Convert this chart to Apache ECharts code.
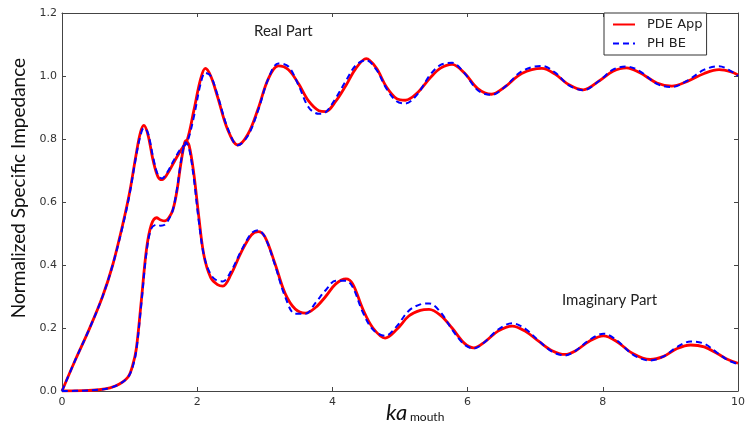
<!DOCTYPE html>
<html>
<head>
<meta charset="utf-8">
<script src="https://cdn.jsdelivr.net/npm/echarts@6/dist/echarts.min.js"></script>
<style>html,body{margin:0;padding:0;background:#fff}#c{width:748px;height:424px}</style>
</head>
<body>
<div id="c"></div>
<script>
// ---- data ----
const seriesNames = ['PDE App', 'PH BE'];
const xTicks = [0, 2, 4, 6, 8, 10];
const yTicks = [0.0, 0.2, 0.4, 0.6, 0.8, 1.0, 1.2];

const xReal = [0, 0.2, 0.4, 0.6, 0.75, 0.9, 1.0, 1.1, 1.16, 1.21, 1.27, 1.35, 1.42, 1.48, 1.56, 1.66, 1.76, 1.85, 1.95, 2.05, 2.12, 2.2, 2.3, 2.45, 2.6, 2.75, 2.9, 3.05, 3.2, 3.35, 3.5, 3.65, 3.8, 3.9, 4.05, 4.2, 4.35, 4.5, 4.65, 4.8, 4.95, 5.08, 5.25, 5.45, 5.6, 5.77, 5.95, 6.15, 6.35, 6.55, 6.8, 7.1, 7.3, 7.5, 7.71, 7.95, 8.15, 8.35, 8.55, 8.8, 9.02, 9.25, 9.5, 9.72, 9.9, 10];
const realPDE = [0, 0.10, 0.195, 0.30, 0.40, 0.53, 0.63, 0.755, 0.82, 0.843, 0.815, 0.73, 0.68, 0.671, 0.69, 0.728, 0.765, 0.795, 0.89, 0.99, 1.024, 1.0, 0.935, 0.83, 0.781, 0.815, 0.895, 0.99, 1.032, 1.02, 0.975, 0.92, 0.89, 0.887, 0.92, 0.97, 1.025, 1.055, 1.025, 0.965, 0.928, 0.923, 0.945, 0.995, 1.025, 1.037, 1.01, 0.96, 0.942, 0.965, 1.008, 1.024, 1.005, 0.972, 0.956, 0.985, 1.015, 1.026, 1.01, 0.978, 0.968, 0.983, 1.008, 1.02, 1.013, 1.003];
const realBE  = [0, 0.10, 0.195, 0.30, 0.40, 0.525, 0.625, 0.75, 0.81, 0.835, 0.82, 0.74, 0.685, 0.675, 0.695, 0.735, 0.77, 0.79, 0.87, 0.975, 1.01, 1.0, 0.94, 0.835, 0.78, 0.81, 0.89, 0.99, 1.04, 1.03, 0.97, 0.90, 0.88, 0.885, 0.93, 0.985, 1.035, 1.05, 1.02, 0.96, 0.92, 0.913, 0.94, 1.005, 1.035, 1.042, 1.01, 0.955, 0.94, 0.965, 1.015, 1.032, 1.01, 0.97, 0.955, 0.985, 1.02, 1.03, 1.015, 0.975, 0.965, 0.985, 1.02, 1.031, 1.015, 1.0];

const xImag = [0, 0.3, 0.55, 0.71, 0.85, 0.98, 1.05, 1.1, 1.175, 1.25, 1.32, 1.4, 1.46, 1.52, 1.58, 1.64, 1.7, 1.75, 1.8, 1.83, 1.88, 1.95, 2.02, 2.1, 2.2, 2.3, 2.38, 2.5, 2.65, 2.8, 2.9, 3.0, 3.15, 3.3, 3.45, 3.6, 3.75, 3.9, 4.05, 4.2, 4.3, 4.45, 4.6, 4.78, 4.95, 5.13, 5.3, 5.43, 5.6, 5.77, 5.95, 6.09, 6.25, 6.45, 6.66, 6.85, 7.05, 7.25, 7.44, 7.6, 7.8, 8.01, 8.2, 8.45, 8.7, 8.9, 9.1, 9.3, 9.5, 9.7, 9.85, 10];
const imagPDE = [0, 0.001, 0.004, 0.01, 0.022, 0.045, 0.085, 0.135, 0.29, 0.45, 0.527, 0.55, 0.543, 0.54, 0.55, 0.575, 0.635, 0.71, 0.775, 0.795, 0.78, 0.69, 0.56, 0.43, 0.36, 0.338, 0.333, 0.37, 0.44, 0.495, 0.506, 0.49, 0.405, 0.31, 0.26, 0.247, 0.265, 0.30, 0.34, 0.356, 0.34, 0.26, 0.20, 0.168, 0.195, 0.238, 0.256, 0.259, 0.24, 0.20, 0.152, 0.137, 0.155, 0.19, 0.206, 0.19, 0.158, 0.128, 0.116, 0.128, 0.158, 0.175, 0.158, 0.118, 0.10, 0.11, 0.135, 0.146, 0.14, 0.118, 0.10, 0.088];
const imagBE  = [0, 0.001, 0.004, 0.01, 0.022, 0.045, 0.08, 0.13, 0.28, 0.44, 0.515, 0.528, 0.525, 0.528, 0.545, 0.575, 0.64, 0.715, 0.775, 0.79, 0.77, 0.675, 0.545, 0.43, 0.37, 0.35, 0.348, 0.38, 0.445, 0.50, 0.51, 0.49, 0.40, 0.30, 0.245, 0.245, 0.28, 0.32, 0.35, 0.35, 0.33, 0.25, 0.195, 0.175, 0.205, 0.255, 0.275, 0.278, 0.25, 0.195, 0.148, 0.135, 0.155, 0.195, 0.215, 0.198, 0.16, 0.125, 0.113, 0.128, 0.162, 0.182, 0.162, 0.115, 0.097, 0.11, 0.14, 0.157, 0.15, 0.12, 0.098, 0.085];

const pairs = (xs, ys) => xs.map((x, i) => [x, ys[i]]);

const chart = echarts.init(document.getElementById('c'), null, {renderer: 'canvas'});
const axisColor = '#444';
const labelFont = {fontFamily: 'DejaVu Sans', fontSize: 11, color: '#333'};
const redLine = {color: '#ff0000', width: 2.8, type: 'solid'};
const blueLine = {color: '#0000ff', width: 2, type: [6, 4]};

function lineSeries(name, data, ls, z) {
  return {name, type: 'line', data, smooth: 0.35, showSymbol: false, symbol: 'none',
    lineStyle: ls, itemStyle: {color: ls.color}, z, animation: false, xAxisIndex: 0, yAxisIndex: 0};
}

function axisBase(pos, showLabel, extra) {
  return Object.assign({
    type: 'value', position: pos,
    axisLine: {show: true, onZero: false, lineStyle: {color: axisColor, width: 1}},
    axisTick: {show: true, inside: true, length: 4, lineStyle: {color: axisColor}},
    splitLine: {show: false}
  }, extra);
}

chart.setOption({
  animation: false,
  grid: {left: 62, right: 8, top: 13, bottom: 33, containLabel: false},
  xAxis: [
    axisBase('bottom', true, {min: xTicks[0], max: xTicks[xTicks.length - 1], interval: 2,
      axisLabel: Object.assign({margin: 6}, labelFont)}),
    axisBase('top', false, {min: xTicks[0], max: xTicks[xTicks.length - 1], interval: 2,
      axisLabel: {show: false}})
  ],
  yAxis: [
    axisBase('left', true, {min: yTicks[0], max: yTicks[yTicks.length - 1], interval: 0.2,
      axisLabel: Object.assign({margin: 5, formatter: v => v.toFixed(1)}, labelFont)}),
    axisBase('right', false, {min: yTicks[0], max: yTicks[yTicks.length - 1], interval: 0.2,
      axisLabel: {show: false}})
  ],
  legend: {
    data: seriesNames, orient: 'vertical', left: 604, top: 13,
    padding: [5, 4, 5, 8], itemWidth: 22, itemHeight: 14, itemGap: 6,
    borderColor: '#333', borderWidth: 1, borderRadius: 0, backgroundColor: '#fff',
    itemStyle: {opacity: 0},
    textStyle: {fontFamily: 'DejaVu Sans', fontSize: 13, color: '#222', padding: [0, 0, 0, 7]}
  },
  series: [
    lineSeries(seriesNames[0], pairs(xReal, realPDE), redLine, 2),
    lineSeries(seriesNames[0], pairs(xImag, imagPDE), redLine, 2),
    lineSeries(seriesNames[1], pairs(xReal, realBE), blueLine, 3),
    lineSeries(seriesNames[1], pairs(xImag, imagBE), blueLine, 3)
  ],
  graphic: [
    {type: 'text', left: 254, top: 24, style: {text: 'Real Part', font: '15px Lato', fill: '#222'}},
    {type: 'text', left: 562, top: 293, style: {text: 'Imaginary Part', font: '15px Lato', fill: '#222'}},
    {type: 'text', x: 9, y: 188, rotation: Math.PI / 2,
     style: {text: 'Normalized Specific Impedance', font: '19px Lato', fill: '#111', align: 'center', verticalAlign: 'top'}},
    {type: 'text', x: 386, y: 402, style: {text: 'ka', font: 'italic 22px Lato', fill: '#111'}},
    {type: 'text', x: 410, y: 411, style: {text: 'mouth', font: '12px Lato', fill: '#111'}}
  ]
});
</script>
</body>
</html>
